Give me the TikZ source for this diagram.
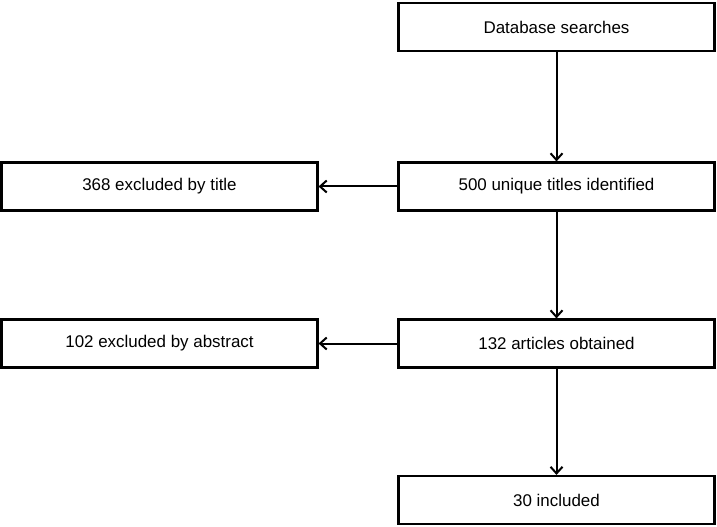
\documentclass[tikz,border=0pt]{standalone}
\usepackage{fontspec}
\setmainfont{Liberation Sans}
\usetikzlibrary{arrows.meta}
\tikzset{
	flowbox/.style={draw=black,line width=1.6pt,minimum width=237pt,minimum height=36pt,inner sep=0pt,font=\fontsize{12.7}{15}\selectfont},
	flowarrow/.style={draw=black,line width=1.5pt,-{Straight Barb[length=5pt,width=9pt]}}
}
\begin{document}
\begin{tikzpicture}[x=0.75pt,y=-0.75pt]
			\useasboundingbox (0,0) rectangle (717,527);
			\begin{scope}
				\node[flowbox] (search) at (556.5,27) {Database searches};
				\node[flowbox] (unique) at (556.5,186.5) {500 unique titles identified};
				\node[flowbox] (articles) at (556.5,343.5) {132 articles obtained};
				\node[flowbox] (included) at (556.5,500) {30 included};
			\end{scope}
			%			excluded
			\begin{scope}
				\node[flowbox] (bytitle) at (159.5,186.5) {368 excluded by title};
				\node[flowbox] (byabstract) at (159.5,343.5) {102 excluded by abstract};
			\end{scope}
			\path[flowarrow] (search)--(unique);
			\path[flowarrow] (unique)--(articles);
			\path[flowarrow] (articles)--(included);
			\path[flowarrow] (unique)--(bytitle);
			\path[flowarrow] (articles)--(byabstract);
		\end{tikzpicture}
\end{document}
